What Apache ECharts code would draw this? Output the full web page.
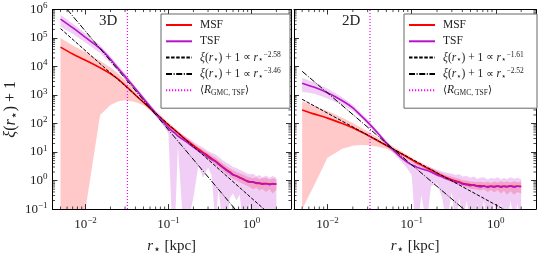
<!DOCTYPE html>
<html><head><meta charset="utf-8">
<script src="https://cdn.jsdelivr.net/npm/echarts@6/dist/echarts.min.js"></script>
<style>html,body{margin:0;padding:0;background:#fff}#c{width:540px;height:261px}</style>
</head><body><div id="c"></div>
<script>
// ---------------- data ----------------
const xMin = 0.004, xMax = 3, yMin = 0.1, yMax = 1e6;
const xTickExps = [-2, -1, 0];
const yTickExps = [-1, 0, 1, 2, 3, 4, 5, 6];
const rGmcTsf = 0.032;           // <R_GMC,TSF> [kpc]

const r = [0.005,0.007,0.01,0.015,0.02,0.025,0.03,0.04,0.05,0.06,0.07,0.085,0.1,0.11,0.12,0.13,0.15,0.17,0.2,0.23,0.26,0.3,0.33,0.37,0.4,0.45,0.5,0.55,0.6,0.66,0.72,0.8,0.88,0.95,1.05,1.15,1.25,1.35,1.5,1.65,1.8,2.0];

// 3D
const msf3d   = [4.8e4,2.75e4,1.66e4,9.1e3,5.6e3,3.55e3,2.2e3,1.0e3,550,340,224,135,89,71,58,47,33,24.5,17,12.6,9.8,7.4,6.0,4.8,4.0,3.0,2.4,2.0,1.66,1.45,1.29,1.1,0.98,0.91,0.87,0.83,0.79,0.78,0.78,0.76,0.76,0.76];
const msf3dHi = [1.0e5,5.5e4,3.2e4,1.6e4,9.3e3,5.6e3,3.3e3,1.4e3,720,440,280,170,110,85,69,56,40,30,20,15,12,9.3,7.6,6.3,5.2,4.0,3.2,2.7,2.3,2.0,1.8,1.6,1.4,1.3,1.2,1.3,1.12,1.2,1.26,1.1,1.2,1.12];
const msf3dLo = [0.01,0.01,0.1,200,450,600,660,575,440,290,186,112,72,58,47,38,26,19.5,13.5,10,7.6,5.6,4.6,3.5,3.0,2.2,1.74,1.38,1.15,1.0,0.87,0.76,0.66,0.6,0.5,0.56,0.45,0.52,0.4,0.5,0.35,0.48];
const tsf3d   = [4.6e5,2.3e5,1.05e5,4.3e4,1.8e4,8.3e3,4.6e3,1.66e3,760,400,229,120,72,55,46,36,27.5,21.4,14.8,11.2,9.1,6.6,5.5,4.6,3.8,2.9,2.3,1.9,1.58,1.45,1.26,1.15,0.95,0.89,0.91,0.79,0.83,0.74,0.79,0.72,0.78,0.74];
const tsf3dHi = [6.6e5,3.2e5,1.45e5,5.6e4,2.3e4,1.05e4,5.8e3,2.0e3,930,490,280,150,93,76,63,52,40,32,23,17.8,14.5,11,9.5,8.3,6.9,5.2,4.2,3.6,3.0,2.75,2.4,2.1,1.8,1.66,1.74,1.41,1.58,1.32,1.5,1.26,1.45,1.26];
const tsf3dLo = [2.5e5,1.4e5,6.9e4,3.0e4,1.3e4,6.5e3,3.6e3,1.35e3,620,320,180,89,45,0.03,0.03,16,0.03,0.03,0.25,3.5,1.26,2.8,1.6,0.03,0.5,0.03,0.03,0.25,0.35,0.2,0.32,0.03,0.03,0.16,0.03,0.03,0.13,0.03,0.03,0.1,0.03,0.13];
const pl3a = [[0.005, 2.14e5], [2.0, 0.041]];     // xi+1 ~ r^-2.58
const pl3b = [[0.005, 1.9e6], [2.0, 0.0019]];     // xi+1 ~ r^-3.46

// 2D
const msf2d   = [300,214,155,100,71,51,39,24.5,17,12.6,9.8,7.1,5.4,4.6,4.0,3.55,2.8,2.35,1.82,1.48,1.26,1.07,0.98,0.89,0.81,0.76,0.71,0.68,0.66,0.65,0.63,0.62,0.63,0.62,0.63,0.62,0.63,0.62,0.63,0.62,0.63,0.62];
const msf2dHi = [600,410,275,160,105,72,54,32,22,15.8,12,8.5,6.5,5.5,4.8,4.3,3.4,2.8,2.2,1.8,1.55,1.35,1.26,1.15,1.05,1.0,0.93,0.91,0.89,0.91,0.85,0.91,0.83,0.93,0.85,0.95,0.87,0.93,0.85,0.95,0.87,0.91];
const msf2dLo = [0.1,0.72,6.3,13,16.6,17.8,17.4,15.5,13,10,7.8,5.8,4.4,3.7,3.2,2.9,2.3,1.9,1.48,1.2,1.02,0.87,0.78,0.71,0.63,0.58,0.52,0.5,0.48,0.45,0.5,0.4,0.47,0.38,0.46,0.35,0.44,0.32,0.42,0.32,0.4,0.35];
const tsf2d   = [2.6e3,1.86e3,1.2e3,630,355,190,112,45,21,12,7.6,4.8,3.55,3.16,2.8,2.6,2.3,2.0,1.58,1.35,1.15,1.0,0.89,0.85,0.76,0.72,0.66,0.71,0.63,0.6,0.65,0.58,0.63,0.59,0.65,0.58,0.63,0.6,0.66,0.59,0.63,0.62];
const tsf2dHi = [4.0e3,2.75e3,1.7e3,830,450,235,135,54,25,14.5,9.1,5.8,4.5,4.2,3.8,3.6,3.3,2.9,2.4,2.1,1.9,1.74,1.58,1.66,1.38,1.45,1.26,1.38,1.15,1.26,1.32,1.1,1.26,1.15,1.32,1.1,1.26,1.12,1.32,1.15,1.26,1.12];
const tsf2dLo = [1.3e3,1.1e3,760,450,280,160,93,37,16.6,9.5,5.8,3.2,1.58,0.03,0.03,0.32,0.03,0.63,0.8,0.25,0.03,0.4,0.03,0.25,0.03,0.2,0.03,0.03,0.16,0.03,0.2,0.03,0.03,0.18,0.03,0.16,0.03,0.03,0.2,0.03,0.16,0.03];
const pl2a = [[0.005, 708], [2.0, 0.046]];        // xi+1 ~ r^-1.61
const pl2b = [[0.005, 6.8e3], [2.0, 0.0019]];     // xi+1 ~ r^-2.52

// ---------------- styling ----------------
const FONT = 'Liberation Serif';
const RED = '#ff0000', PURP = '#b414c8', MAG = '#ff00ff';
const RED_FILL = 'rgba(255,40,40,0.25)', PURP_FILL = 'rgba(200,60,215,0.25)';

const grids = [
  {left: 51, top: 9.5, width: 240, height: 214.5},
  {left: 294, top: 9.5, width: 242, height: 214.5}
];

function isDecade(v, list) {
  const l = Math.log10(v), e = Math.round(l);
  return Math.abs(l - e) < 1e-6 && list.indexOf(e) >= 0 ? e : null;
}
function powLabel(e) { return '10{sup|' + (e < 0 ? '\u2212' + (-e) : e) + '}'; }
const labelRich = {
  sup: {fontSize: 9, lineHeight: 9, verticalAlign: 'top', fontFamily: FONT, color: '#222'}
};
const nameRich = (fs) => ({
  i: {fontStyle: 'italic', fontSize: fs, fontFamily: FONT, lineHeight: fs + 4, color: '#222'},
  sub: {fontSize: fs * 0.8, lineHeight: fs * 0.8, verticalAlign: 'bottom', fontFamily: 'DejaVu Sans', color: '#222'}
});

function xAxisDef(gi, pos, showLabel) {
  return {
    type: 'log', logBase: 10, gridIndex: gi, min: xMin, max: xMax, position: pos, z: 10,
    axisLine: {show: true, lineStyle: {color: '#000', width: 1}},
    axisTick: {show: true, inside: true, length: 5, lineStyle: {color: '#000', width: 0.8}},
    splitLine: {show: false},
    axisLabel: {show: showLabel, margin: 7, fontFamily: FONT, fontSize: 13, color: '#222', lineHeight: 16,
      showMinLabel: false, showMaxLabel: false,
      formatter: v => { const e = isDecade(v, xTickExps); return e === null ? '' : powLabel(e); },
      rich: labelRich},
    name: showLabel ? '{i|r}{sub|\u22c6} [kpc]' : '', nameLocation: 'middle', nameGap: 22,
    nameTextStyle: {fontFamily: FONT, fontSize: 15, color: '#222', lineHeight: 19, rich: nameRich(15)}
  };
}
function yAxisDef(gi, pos, showLabel) {
  return {
    type: 'log', logBase: 10, gridIndex: gi, min: yMin, max: yMax, position: pos, splitNumber: 7, z: 10,
    axisLine: {show: true, lineStyle: {color: '#000', width: 1}},
    axisTick: {show: true, inside: true, length: 5, lineStyle: {color: '#000', width: 0.8}},
    splitLine: {show: false},
    axisLabel: {show: showLabel, margin: 5, fontFamily: FONT, fontSize: 13, color: '#222', lineHeight: 16,
      formatter: v => { const e = isDecade(v, yTickExps); return e === null ? '' : powLabel(e); },
      rich: labelRich},
    name: showLabel ? '{i|\u03be}({i|r}{sub|\u22c6}) + 1' : '', nameLocation: 'middle', nameGap: 21, nameRotate: 90,
    nameTextStyle: {fontFamily: FONT, fontSize: 16, color: '#222', lineHeight: 20, rich: nameRich(16)}
  };
}

function bandSeries(gi, lo, hi, fill) {
  return {
    type: 'custom', xAxisIndex: gi * 2, yAxisIndex: gi * 2, silent: true, z: 1,
    data: r.map((x, i) => [x, lo[i], hi[i]]),
    encode: {x: 0, y: [1, 2]},
    renderItem(params, api) {
      if (params.dataIndex !== 0) return;
      const cs = params.coordSys, pts = [];
      for (let i = 0; i < r.length; i++) pts.push(api.coord([r[i], hi[i]]));
      for (let i = r.length - 1; i >= 0; i--) pts.push(api.coord([r[i], lo[i]]));
      return {type: 'polygon', shape: {points: pts}, style: {fill: fill},
        clipPath: {type: 'rect', shape: {x: cs.x, y: cs.y, width: cs.width, height: cs.height}}};
    }
  };
}
function curve(gi, name, ys, color) {
  return {type: 'line', name, xAxisIndex: gi * 2, yAxisIndex: gi * 2, z: 3,
    data: r.map((x, i) => [x, ys[i]]), showSymbol: false, symbol: 'none', smooth: 0.2,
    lineStyle: {color, width: 1.6}, itemStyle: {color}};
}
function powerLaw(gi, name, pts, dash) {
  return {type: 'line', name, xAxisIndex: gi * 2, yAxisIndex: gi * 2, z: 4,
    data: pts, showSymbol: false, symbol: 'none',
    lineStyle: {color: '#000', width: 1, type: dash}, itemStyle: {color: '#000'}};
}
function gmcLine(gi) {
  return {type: 'line', name: 'rgmc', xAxisIndex: gi * 2, yAxisIndex: gi * 2, z: 4,
    data: [[rGmcTsf, yMin], [rGmcTsf, yMax]], showSymbol: false, symbol: 'none',
    lineStyle: {color: MAG, width: 1.2, type: [1.2, 1.8]}, itemStyle: {color: MAG}};
}
function minorTicks(gi) {
  return {
    type: 'custom', xAxisIndex: gi * 2, yAxisIndex: gi * 2, silent: true, z: 11,
    data: [[1, 1]],
    renderItem(params, api) {
      const cs = params.coordSys, ch = [], L = 2.6;
      const st = {stroke: '#000', lineWidth: 0.7};
      for (let e = -3; e <= 0; e++) for (let m = 2; m <= 9; m++) {
        const v = m * Math.pow(10, e);
        if (v <= xMin || v >= xMax) continue;
        const px = api.coord([v, 1])[0];
        ch.push({type: 'line', shape: {x1: px, y1: cs.y + cs.height, x2: px, y2: cs.y + cs.height - L}, style: st});
        ch.push({type: 'line', shape: {x1: px, y1: cs.y, x2: px, y2: cs.y + L}, style: st});
      }
      for (let e = -1; e <= 5; e++) for (let m = 2; m <= 9; m++) {
        const v = m * Math.pow(10, e);
        const py = api.coord([1, v])[1];
        ch.push({type: 'line', shape: {x1: cs.x, y1: py, x2: cs.x + L, y2: py}, style: st});
        ch.push({type: 'line', shape: {x1: cs.x + cs.width, y1: py, x2: cs.x + cs.width - L, y2: py}, style: st});
      }
      return {type: 'group', children: ch};
    }
  };
}

const legRich = {
  i: {fontStyle: 'italic', fontFamily: FONT, fontSize: 11.5, lineHeight: 14},
  sub: {fontSize: 8.5, lineHeight: 8, verticalAlign: 'bottom', fontFamily: 'DejaVu Sans'},
  sup: {fontSize: 7.5, lineHeight: 7.5, verticalAlign: 'top', fontFamily: FONT},
  subr: {fontSize: 7.5, lineHeight: 7.5, verticalAlign: 'bottom', fontFamily: FONT},
  s: {fontFamily: 'DejaVu Sans', fontSize: 10.5, lineHeight: 14}
};
const legendNames = {
  MSF: 'MSF', TSF: 'TSF',
  pl3a: '{i|\u03be}({i|r}{sub|\u22c6}) + 1 {s|\u221d} {i|r}{sub|\u22c6}{sup|\u22122.58}',
  pl3b: '{i|\u03be}({i|r}{sub|\u22c6}) + 1 {s|\u221d} {i|r}{sub|\u22c6}{sup|\u22123.46}',
  pl2a: '{i|\u03be}({i|r}{sub|\u22c6}) + 1 {s|\u221d} {i|r}{sub|\u22c6}{sup|\u22121.61}',
  pl2b: '{i|\u03be}({i|r}{sub|\u22c6}) + 1 {s|\u221d} {i|r}{sub|\u22c6}{sup|\u22122.52}',
  rgmc: '{s|\u27e8}{i|R}{subr|GMC, TSF}{s|\u27e9}'
};
function legendDef(left, items, textW) {
  return {
    left, top: 14, orient: 'vertical', itemWidth: 26, itemHeight: 10, itemGap: 2.3,
    padding: [4, 2, 11, 4], borderColor: '#666', borderWidth: 1, backgroundColor: '#fff',
    selectedMode: false, data: items, z: 20,
    itemStyle: {opacity: 0, borderWidth: 0},
    formatter: n => legendNames[n],
    textStyle: {fontFamily: FONT, fontSize: 11.5, color: '#222', lineHeight: 14, width: textW, padding: [0, 0, 0, 3], rich: legRich}
  };
}

const option = {
  animation: false,
  backgroundColor: '#fff',
  grid: grids,
  xAxis: [xAxisDef(0, 'bottom', true), xAxisDef(0, 'top', false), xAxisDef(1, 'bottom', true), xAxisDef(1, 'top', false)],
  yAxis: [yAxisDef(0, 'left', true), yAxisDef(0, 'right', false), yAxisDef(1, 'left', false), yAxisDef(1, 'right', false)],
  legend: [
    legendDef(161, ['MSF', 'TSF', 'pl3a', 'pl3b', 'rgmc'], 88),
    legendDef(404, ['MSF', 'TSF', 'pl2a', 'pl2b', 'rgmc'], 92)
  ],
  graphic: [
    {type: 'text', left: 99, top: 14, style: {text: '3D', font: '15px "Liberation Serif"', fill: '#222'}},
    {type: 'text', left: 342, top: 14, style: {text: '2D', font: '15px "Liberation Serif"', fill: '#222'}}
  ],
  series: [
    bandSeries(0, msf3dLo, msf3dHi, RED_FILL),
    bandSeries(0, tsf3dLo, tsf3dHi, PURP_FILL),
    curve(0, 'MSF', msf3d, RED),
    curve(0, 'TSF', tsf3d, PURP),
    powerLaw(0, 'pl3a', pl3a, [3.5, 1.6]),
    powerLaw(0, 'pl3b', pl3b, [6, 1.6, 1, 1.6]),
    gmcLine(0),
    minorTicks(0),
    bandSeries(1, msf2dLo, msf2dHi, RED_FILL),
    bandSeries(1, tsf2dLo, tsf2dHi, PURP_FILL),
    curve(1, 'MSF', msf2d, RED),
    curve(1, 'TSF', tsf2d, PURP),
    powerLaw(1, 'pl2a', pl2a, [3.5, 1.6]),
    powerLaw(1, 'pl2b', pl2b, [6, 1.6, 1, 1.6]),
    gmcLine(1),
    minorTicks(1)
  ]
};
const chart = echarts.init(document.getElementById('c'), null, {renderer: 'canvas'});
chart.setOption(option);
</script></body></html>
